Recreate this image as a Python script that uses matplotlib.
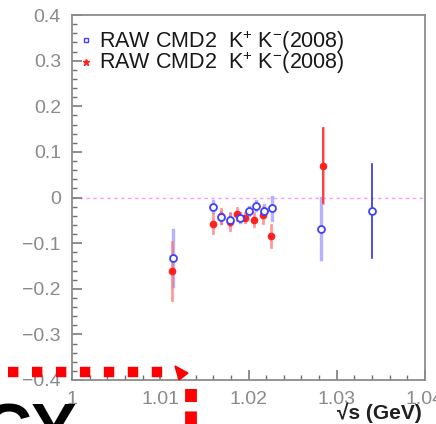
import numpy as np
import matplotlib
matplotlib.use('Agg')
import matplotlib.pyplot as plt
from matplotlib.lines import Line2D
from matplotlib.patches import Polygon
from matplotlib.ticker import MultipleLocator, FuncFormatter

plt.rcParams['font.family'] = ['Liberation Sans', 'DejaVu Sans']
plt.rcParams['mathtext.fontset'] = 'custom'
plt.rcParams['mathtext.rm'] = 'Liberation Sans'

# open blue points
blue_x = [1.01148, 1.0160, 1.01688, 1.0179, 1.0190, 1.0200, 1.0209, 1.0218, 1.0227, 1.0282, 1.0340]
blue_y = [-0.133, -0.020, -0.043, -0.049, -0.044, -0.030, -0.018, -0.029, -0.024, -0.068, -0.029]
blue_err = [0.062, 0.012, 0.012, 0.012, 0.010, 0.009, 0.010, 0.012, 0.025, 0.067, 0.103]

# filled red points
red_x = [1.0113, 1.0160, 1.0169, 1.0179, 1.01875, 1.0196, 1.0206, 1.0216, 1.0226, 1.0284]
red_y = [-0.161, -0.057, -0.041, -0.053, -0.036, -0.044, -0.049, -0.038, -0.084, 0.070]
red_err = [0.064, 0.020, 0.015, 0.018, 0.014, 0.010, 0.014, 0.018, 0.024, 0.082]

legend_label = r'RAW CMD2  K$^{\mathrm{+}}$ K$^{\mathrm{-}}$(2008)'
x_ticks = [1.0, 1.01, 1.02, 1.03, 1.04]

W, H = 436, 424
fig = plt.figure(figsize=(W / 100, H / 100), dpi=100)
ax = fig.add_axes([72 / W, 1 - 380 / H, 353 / W, 365 / H])

blue = '#4040ff'
red = '#ff2020'

# error bars, light and wide except the last blue one
for i, (x, y, e) in enumerate(zip(blue_x, blue_y, blue_err)):
    if i == len(blue_x) - 1:
        ax.plot([x, x], [y - e, y + e], color='#3030e0', lw=1.2, zorder=2)
    else:
        ax.plot([x, x], [y - e, y + e], color='#9a9aff', lw=2.4, alpha=0.75, zorder=2)
for x, y, e in zip(red_x, red_y, red_err):
    ax.plot([x, x], [y - e, y + e], color='#ff7070', lw=2.0, alpha=0.7, zorder=2)
ax.plot([red_x[-1]] * 2, [red_y[-1] - red_err[-1], red_y[-1] + red_err[-1]],
        color='#ff3030', lw=1.2, zorder=2)

ax.plot(red_x, red_y, linestyle='none', marker='o', ms=4.5, mfc=red, mec=red, zorder=3)
ax.plot(blue_x, blue_y, linestyle='none', marker='o', ms=5, mfc='white', mec=blue,
        mew=1.3, zorder=4)

ax.axhline(0, color='#ff99ff', lw=1, ls=(0, (2.5, 2.5)), zorder=1)

ax.set_xlim(1.0, 1.04)
ax.set_ylim(-0.4, 0.4)
ax.xaxis.set_minor_locator(MultipleLocator(0.002))
ax.yaxis.set_major_locator(MultipleLocator(0.1))
ax.yaxis.set_minor_locator(MultipleLocator(0.02))
ax.set_xticks(x_ticks)
ax.xaxis.set_major_formatter(FuncFormatter(lambda v, p: '%g' % round(v, 3)))
ax.yaxis.set_major_formatter(FuncFormatter(
    lambda v, p: ('%g' % round(v, 2)).replace('-', '\u2212') if abs(v) > 1e-9 else '0'))

ax.tick_params(which='both', direction='in', top=False, right=False,
               color='#707070', labelcolor='#8a8a8a', labelsize=14)
ax.tick_params(which='major', length=7, width=1.1, pad=8)
ax.tick_params(which='minor', length=3.5, width=1.0)
for s in ax.spines.values():
    s.set_color('#8c8c8c')
    s.set_linewidth(1.3)

ax.text(0.99, -0.09, '\u221as (GeV)', transform=ax.transAxes, ha='right',
        va='center', fontsize=15, fontweight='bold', color='#202020')

handles = [Line2D([], [], ls='none', marker='s', ms=3.5, mfc='white', mec=blue, mew=1),
           Line2D([], [], ls='none', marker='*', ms=5, mfc=red, mec=red)]
ax.legend(handles, [legend_label, legend_label], loc='upper left',
          bbox_to_anchor=(-0.02, 1.005), frameon=False, fontsize=15.5,
          handlelength=0.6, handletextpad=0.3, labelspacing=-0.23,
          borderaxespad=0.3, labelcolor='#181818')

# red dotted arrow and big heading cut off at the bottom
over = fig.add_axes([0, 0, 1, 1], zorder=10)
over.set_xlim(0, W)
over.set_ylim(H, 0)
over.axis('off')
over.plot([8, 170], [372, 372], color='red', lw=7.5, ls=(0, (1, 1.3)),
          solid_capstyle='butt', dash_capstyle='butt')
over.add_patch(Polygon([[175, 366], [188, 373], [179, 380]], closed=True, color='red'))
over.plot([191, 191], [389, 430], color='red', lw=8.5, ls=(0, (1.1, 0.8)),
          dash_capstyle='butt')
over.text(-18, 451, 'CY', fontsize=49, fontweight='bold', color='black',
          ha='left', va='baseline', clip_on=False)

fig.savefig('out.png', dpi=100)
